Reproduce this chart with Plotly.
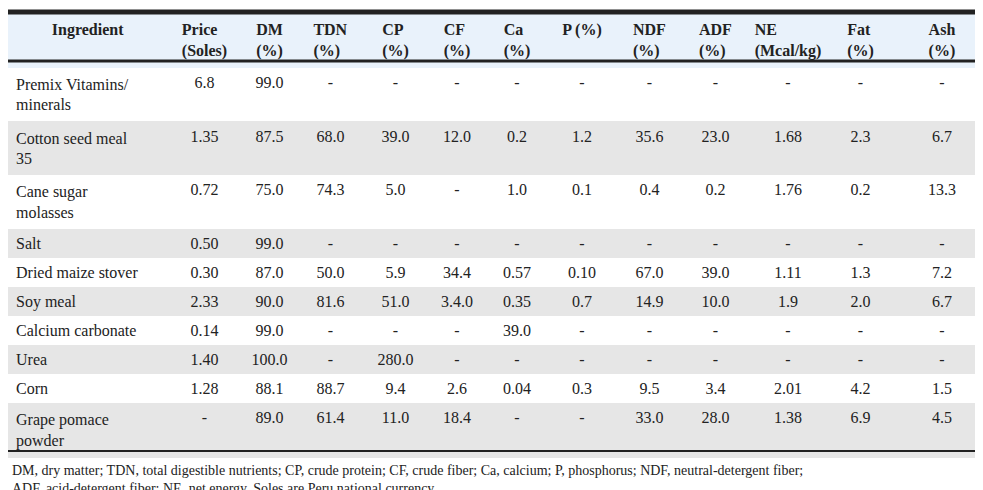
import plotly.graph_objects as go

headers = ["Ingredient", "Price<br>(Soles)", "DM<br>(%)", "TDN<br>(%)", "CP<br>(%)", "CF<br>(%)",
           "Ca<br>(%)", "P (%)", "NDF<br>(%)", "ADF<br>(%)", "NE<br>(Mcal/kg)", "Fat<br>(%)", "Ash<br>(%)"]

ingredient = ["Premix Vitamins/<br>minerals", "Cotton seed meal<br>35", "Cane sugar<br>molasses", "Salt",
              "Dried maize stover", "Soy meal", "Calcium carbonate", "Urea", "Corn", "Grape pomace<br>powder"]
price = ["6.8", "1.35", "0.72", "0.50", "0.30", "2.33", "0.14", "1.40", "1.28", "-"]
dm = ["99.0", "87.5", "75.0", "99.0", "87.0", "90.0", "99.0", "100.0", "88.1", "89.0"]
tdn = ["-", "68.0", "74.3", "-", "50.0", "81.6", "-", "-", "88.7", "61.4"]
cp = ["-", "39.0", "5.0", "-", "5.9", "51.0", "-", "280.0", "9.4", "11.0"]
cf = ["-", "12.0", "-", "-", "34.4", "3.4.0", "-", "-", "2.6", "18.4"]
ca = ["-", "0.2", "1.0", "-", "0.57", "0.35", "39.0", "-", "0.04", "-"]
p = ["-", "1.2", "0.1", "-", "0.10", "0.7", "-", "-", "0.3", "-"]
ndf = ["-", "35.6", "0.4", "-", "67.0", "14.9", "-", "-", "9.5", "33.0"]
adf = ["-", "23.0", "0.2", "-", "39.0", "10.0", "-", "-", "3.4", "28.0"]
ne = ["-", "1.68", "1.76", "-", "1.11", "1.9", "-", "-", "2.01", "1.38"]
fat = ["-", "2.3", "0.2", "-", "1.3", "2.0", "-", "-", "4.2", "6.9"]
ash = ["-", "6.7", "13.3", "-", "7.2", "6.7", "-", "-", "1.5", "4.5"]

footnote = ["DM, dry matter; TDN, total digestible nutrients; CP, crude protein; CF, crude fiber; Ca, calcium; P, phosphorus; NDF, neutral-detergent fiber;",
            "ADF, acid-detergent fiber; NE, net energy. Soles are Peru national currency."]

col_widths = [160, 73, 57, 65, 65, 58, 62, 68, 67, 65, 80, 65, 98]
row_fill = ["white" if i % 2 == 0 else "#e6e6e6" for i in range(len(ingredient))]
serif = "Liberation Serif, Times New Roman, serif"

fig = go.Figure(go.Table(
    columnwidth=col_widths,
    domain=dict(x=[0, 1], y=[0, 0.99]),
    header=dict(values=["<b>%s</b>" % h for h in headers], height=44,
                fill_color="#e9f2fb", line=dict(width=0),
                font=dict(family=serif, size=16, color="#222"),
                align="center"),
    cells=dict(values=[ingredient, price, dm, tdn, cp, cf, ca, p, ndf, adf, ne, fat, ash],
               height=29, fill_color=[row_fill], line=dict(width=0),
               font=dict(family=serif, size=16, color="#222"),
               align=["left"] + ["center"] * 12),
))

# borders
fig.add_shape(type="line", xref="paper", yref="paper", x0=0, x1=1, y0=0.992, y1=0.992, line=dict(color="#222", width=5))
fig.add_shape(type="line", xref="paper", yref="paper", x0=0, x1=1, y0=0.892, y1=0.892, line=dict(color="#222", width=3))
fig.add_shape(type="line", xref="paper", yref="paper", x0=0, x1=1, y0=0.096, y1=0.096, line=dict(color="#222", width=2))

for i, line in enumerate(footnote):
    fig.add_annotation(text=line, xref="paper", yref="paper", x=0.002, y=0.057 - i * 0.038,
                       xanchor="left", yanchor="middle", showarrow=False,
                       font=dict(family=serif, size=14, color="#222"))

fig.update_layout(width=983, height=490, margin=dict(l=0, r=0, t=0, b=0),
                  paper_bgcolor="white")
fig.write_html("out.html")
